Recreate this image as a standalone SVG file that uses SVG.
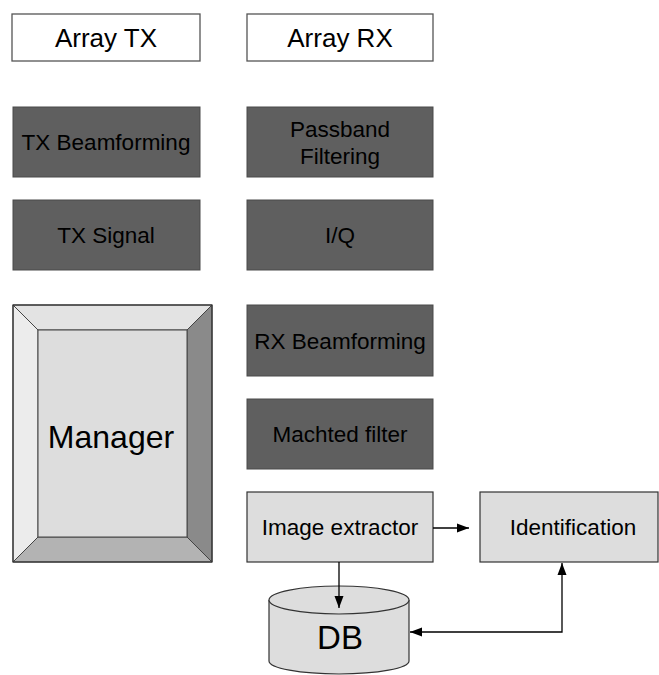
<svg xmlns="http://www.w3.org/2000/svg" width="659" height="675" viewBox="0 0 659 675">
<defs>
<style>
text{font-family:"Liberation Sans",Arial,sans-serif;fill:#000;text-anchor:middle}
.white{fill:#fff;stroke:#555;stroke-width:1.3}
.dark{fill:#5f5f5f;stroke:#4a4a4a;stroke-width:1}
.light{fill:#dddddd;stroke:#333;stroke-width:1.2}
.t26{font-size:26px}
.t22{font-size:22.5px}
.conn{fill:none;stroke:#000;stroke-width:1.3}
</style>
<marker id="arr" viewBox="0 0 12 10" refX="12" refY="5" markerWidth="12" markerHeight="10" markerUnits="userSpaceOnUse" orient="auto-start-reverse">
<path d="M0,0.5 L12,5 L0,9.5 Z" fill="#000"/>
</marker>
</defs>
<g id="array-tx"><rect class="white" x="12" y="14" width="188" height="47"/><text class="t26" x="106" y="47">Array TX</text></g>
<g id="array-rx"><rect class="white" x="247" y="14" width="186" height="47"/><text class="t26" x="340" y="47">Array RX</text></g>
<g id="tx-beamforming"><rect class="dark" x="13" y="107" width="187" height="70"/><text class="t22" x="106" y="150">TX Beamforming</text></g>
<g id="passband-filtering"><rect class="dark" x="247" y="107" width="186" height="70"/><text class="t22" x="340" y="137">Passband</text><text class="t22" x="340" y="164">Filtering</text></g>
<g id="tx-signal"><rect class="dark" x="13" y="200" width="187" height="70"/><text class="t22" x="106" y="243">TX Signal</text></g>
<g id="iq"><rect class="dark" x="247" y="200" width="186" height="70"/><text class="t22" x="340" y="243">I/Q</text></g>
<g id="manager">
<polygon points="13,305 212,305 187,330 38,330" fill="#e3e3e3" stroke="#444" stroke-width="1"/>
<polygon points="13,305 38,330 38,537 13,562" fill="#ececec" stroke="#444" stroke-width="1"/>
<polygon points="212,305 212,562 187,537 187,330" fill="#8a8a8a" stroke="#444" stroke-width="1"/>
<polygon points="13,562 38,537 187,537 212,562" fill="#b3b3b3" stroke="#444" stroke-width="1"/>
<rect x="38" y="330" width="149" height="207" fill="#dddddd" stroke="#444" stroke-width="1"/>
<rect x="13" y="305" width="199" height="257" fill="none" stroke="#333" stroke-width="1.2"/>
<text x="111" y="448" style="font-size:32px">Manager</text>
</g>
<g id="rx-beamforming"><rect class="dark" x="247" y="305" width="186" height="71"/><text class="t22" x="340" y="349">RX Beamforming</text></g>
<g id="matched-filter"><rect class="dark" x="247" y="399" width="186" height="70"/><text class="t22" x="340" y="442">Machted filter</text></g>
<g id="image-extractor"><rect class="light" x="247" y="492" width="186" height="70"/><text class="t22" x="340" y="535">Image extractor</text></g>
<g id="identification"><rect class="light" x="480" y="492" width="178" height="70"/><text class="t22" x="573" y="535">Identification</text></g>
<g id="db">
<path d="M269,600 L269,661 A70,13 0 0 0 409,661 L409,600" fill="#dddddd" stroke="#333" stroke-width="1.2"/>
<ellipse cx="339" cy="600" rx="70" ry="14" fill="#dddddd" stroke="#333" stroke-width="1.2"/>
<text x="340" y="649" style="font-size:33px">DB</text>
</g>
<g id="connectors">
<path class="conn" d="M433,528 L469,528" marker-end="url(#arr)"/>
<path class="conn" d="M339,562 L339,608" marker-end="url(#arr)"/>
<path class="conn" d="M410,632 L562,632 L562,563" marker-start="url(#arr)" marker-end="url(#arr)"/>
</g>
</svg>
